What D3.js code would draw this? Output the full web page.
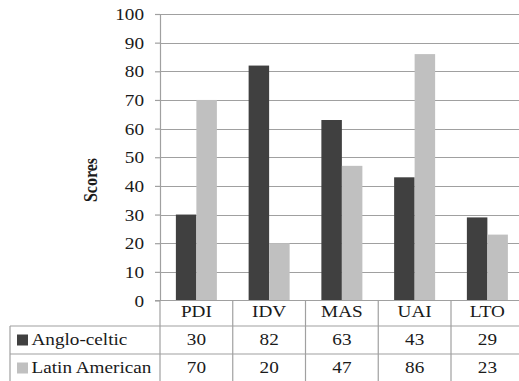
<!DOCTYPE html>
<html><head><meta charset="utf-8">
<script src="https://cdn.jsdelivr.net/npm/d3@7"></script>
<style>
html,body{margin:0;padding:0;background:#fff;}
svg{display:block;}
</style></head>
<body>
<svg id="chart" width="519" height="381"></svg>
<script>
const categories = ["PDI","IDV","MAS","UAI","LTO"];
const seriesNames = ["Anglo-celtic","Latin American"];
const angloCeltic = [30,82,63,43,29];
const latinAmerican = [70,20,47,86,23];
const yTicks = [0,10,20,30,40,50,60,70,80,90,100];
const seriesColors = ["#404040","#c0c0c0"];
const series = [angloCeltic, latinAmerican];

const FONT = "'Liberation Serif'";
const svg = d3.select("#chart");
const SX = 1.2; // horizontal stretch of text as in reference
const gridColor = "#a0a0a0";
const textColor = "#1a1a1a";
const plotLeft = 160, plotRight = 523.75, plotTop = 14, plotBottom = 300.5;

const y = d3.scaleLinear().domain([0,100]).range([plotBottom, plotTop]);
const x = d3.scaleBand().domain(categories).range([plotLeft, plotRight]).paddingInner(0).paddingOuter(0);
const barW = 20.5;
const xs = d3.scaleBand().domain(seriesNames).range([0, barW*2]);

function stretchText(sel, px, py, anchor){
  sel.attr("x",0).attr("y",0)
     .attr("text-anchor",anchor)
     .style("font-family",FONT)
     .style("font-size","16px")
     .attr("fill",textColor)
     .attr("transform",`translate(${px},${py}) scale(${SX},1)`);
}

// gridlines
svg.append("g").selectAll("line").data(yTicks.filter(d=>d>0)).join("line")
  .attr("x1",plotLeft).attr("x2",519)
  .attr("y1",d=>Math.round(y(d))+0.5).attr("y2",d=>Math.round(y(d))+0.5)
  .attr("stroke",gridColor).attr("stroke-width",1.2);

// bars
const groups = svg.append("g").selectAll("g").data(categories).join("g")
  .attr("transform",d=>`translate(${x(d)+x.bandwidth()/2-barW},0)`);
groups.selectAll("rect").data((c,i)=>series.map((s,k)=>({k,v:s[i]}))).join("rect")
  .attr("x",d=>xs(seriesNames[d.k]))
  .attr("width",xs.bandwidth())
  .attr("y",d=>y(d.v))
  .attr("height",d=>y(0)-y(d.v))
  .attr("fill",d=>seriesColors[d.k]);

// y axis
const yAxis = d3.axisLeft(y).tickValues(yTicks).tickSizeInner(5).tickSizeOuter(0).tickPadding(0);
const ga = svg.append("g").attr("transform",`translate(${plotLeft},0)`).call(yAxis);
ga.attr("font-family",null).attr("font-size",null);
ga.select(".domain").attr("stroke",gridColor).attr("stroke-width",1.2);
ga.selectAll(".tick line").attr("stroke",gridColor).attr("stroke-width",1.2);
ga.selectAll(".tick text").each(function(){
  const t = d3.select(this);
  t.attr("dy",null);
  stretchText(t, -16, 5.5, "end");
});

// axis title
svg.append("text").text("Scores")
  .style("font-family",FONT).style("font-size","16px").attr("font-weight","bold")
  .attr("fill",textColor)
  .attr("text-anchor","middle")
  .attr("transform",`translate(97,180) rotate(-90) scale(1,${SX})`);

// table lines
const T = svg.append("g").attr("stroke",gridColor).attr("stroke-width",1.2);
const rowY = [300.5, 326, 354, 381];
T.append("line").attr("x1",155).attr("x2",519).attr("y1",rowY[0]).attr("y2",rowY[0]);
T.append("line").attr("x1",10).attr("x2",519).attr("y1",rowY[1]).attr("y2",rowY[1]);
T.append("line").attr("x1",10).attr("x2",519).attr("y1",rowY[2]).attr("y2",rowY[2]);
T.append("line").attr("x1",10).attr("x2",10).attr("y1",rowY[1]).attr("y2",381);
T.selectAll("line.sep").data(categories.slice(1)).join("line").attr("class","sep")
  .attr("x1",d=>x(d)).attr("x2",d=>x(d)).attr("y1",rowY[0]).attr("y2",381);
T.append("line").attr("x1",plotLeft).attr("x2",plotLeft).attr("y1",300).attr("y2",381);

// category header labels
svg.append("g").selectAll("text").data(categories).join("text")
  .text(d=>d)
  .each(function(d){ stretchText(d3.select(this), x(d)+x.bandwidth()/2, 317, "middle"); });

// value rows
const rowBase = [345, 373];
series.forEach((s,k)=>{
  svg.append("g").selectAll("text").data(s).join("text")
    .text(d=>d)
    .each(function(d,i){ stretchText(d3.select(this), x(categories[i])+x.bandwidth()/2, rowBase[k], "middle"); });
  svg.append("rect").attr("x",17).attr("y",rowBase[k]-10.5).attr("width",11).attr("height",11)
    .attr("fill",seriesColors[k]);
  const lt = svg.append("text").text(seriesNames[k]);
  stretchText(lt, 31.5, rowBase[k], "start");
});
</script>
</body></html>
